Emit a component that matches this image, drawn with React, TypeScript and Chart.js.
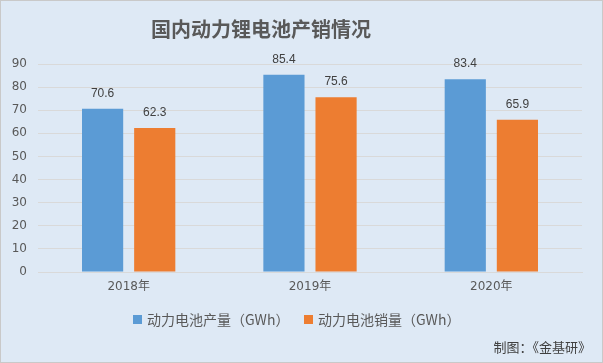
import React, { useEffect, useRef } from "react";
import { Chart, registerables } from "chart.js";

Chart.register(...registerables);

const categories = ["2018年", "2019年", "2020年"];
const productionValues = [70.6, 85.4, 83.4];
const salesValues = [62.3, 75.6, 65.9];
const seriesNames = ["动力电池产量（GWh）", "动力电池销量（GWh）"];
const yTicks = [0, 10, 20, 30, 40, 50, 60, 70, 80, 90];
const titleText = "国内动力锂电池产销情况";
const creditText = "制图：《金基研》";

const BLUE = "#5b9bd5";
const ORANGE = "#ed7d31";
const BG = "#dee9f5";
const CJK = '"Noto Sans CJK SC", "Noto Sans", sans-serif';

const decorPlugin = {
  id: "decor",
  beforeDraw(chart: any) {
    const ctx = chart.ctx;
    ctx.save();
    ctx.fillStyle = BG;
    ctx.fillRect(0, 0, chart.width, chart.height);
    ctx.strokeStyle = "#c9c9c9";
    ctx.lineWidth = 1;
    ctx.strokeRect(0.5, 0.5, chart.width - 1, chart.height - 1);
    ctx.restore();
  },
  afterDraw(chart: any) {
    const ctx = chart.ctx;
    ctx.save();
    // title
    ctx.fillStyle = "#595959";
    ctx.font = `bold 20px ${CJK}`;
    ctx.textAlign = "center";
    ctx.textBaseline = "middle";
    ctx.fillText(titleText, 261, 29);
    // data labels
    ctx.fillStyle = "#404040";
    ctx.font = `12px "Liberation Sans", sans-serif`;
    ctx.textBaseline = "alphabetic";
    chart.data.datasets.forEach((ds: any, i: number) => {
      const meta = chart.getDatasetMeta(i);
      meta.data.forEach((bar: any, j: number) => {
        ctx.fillText(String(ds.data[j].toFixed(1)), bar.x, bar.y - 12);
      });
    });
    // legend
    ctx.font = `14px ${CJK}`;
    ctx.textAlign = "left";
    ctx.textBaseline = "middle";
    const legendItems = [
      { x: 133, color: BLUE, text: seriesNames[0] },
      { x: 304, color: ORANGE, text: seriesNames[1] },
    ];
    legendItems.forEach((it) => {
      ctx.fillStyle = it.color;
      ctx.fillRect(it.x, 315, 9, 9);
      ctx.fillStyle = "#595959";
      ctx.fillText(it.text, it.x + 14, 320);
    });
    // credit
    ctx.fillStyle = "#404040";
    ctx.font = `13px ${CJK}`;
    ctx.textAlign = "right";
    ctx.fillText(creditText, 591, 347);
    ctx.restore();
  },
};

export default function App() {
  const canvasRef = useRef<HTMLCanvasElement | null>(null);

  useEffect(() => {
    if (!canvasRef.current) return;
    const chart = new Chart(canvasRef.current, {
      type: "bar",
      data: {
        labels: categories,
        datasets: [
          {
            label: seriesNames[0],
            data: productionValues,
            backgroundColor: BLUE,
            categoryPercentage: 0.575,
            barPercentage: 0.79,
          },
          {
            label: seriesNames[1],
            data: salesValues,
            backgroundColor: ORANGE,
            categoryPercentage: 0.575,
            barPercentage: 0.79,
          },
        ],
      },
      options: {
        responsive: false,
        animation: false,
        devicePixelRatio: 1,
        layout: { padding: { left: 0, right: 21, top: 64, bottom: 61 } },
        plugins: {
          legend: { display: false },
          title: { display: false },
          tooltip: { enabled: false },
        },
        scales: {
          x: {
            grid: { display: false, drawTicks: false },
            border: { display: true, color: "#d9d9d9", width: 1 },
            ticks: {
              color: "#595959",
              font: { size: 12, family: '"DejaVu Sans", "Noto Sans CJK SC", sans-serif' },
              padding: 8,
            },
            afterFit: (scale: any) => {
              scale.height = 30;
            },
          },
          y: {
            min: 0,
            max: 90,
            afterBuildTicks: (scale: any) => {
              scale.ticks = yTicks.map((v) => ({ value: v }));
            },
            grid: { color: "#d9d9d9", drawTicks: false, lineWidth: 1 },
            border: { display: false },
            ticks: {
              color: "#595959",
              font: { size: 12, family: '"DejaVu Sans", sans-serif' },
              padding: 11,
            },
            afterFit: (scale: any) => {
              scale.width = 38;
            },
          },
        },
      },
      plugins: [decorPlugin],
    });
    return () => chart.destroy();
  }, []);

  return (
    <div style={{ position: "fixed", left: 0, top: 0, width: 603, height: 363 }}>
      <canvas ref={canvasRef} width={603} height={363} style={{ display: "block" }} />
    </div>
  );
}
